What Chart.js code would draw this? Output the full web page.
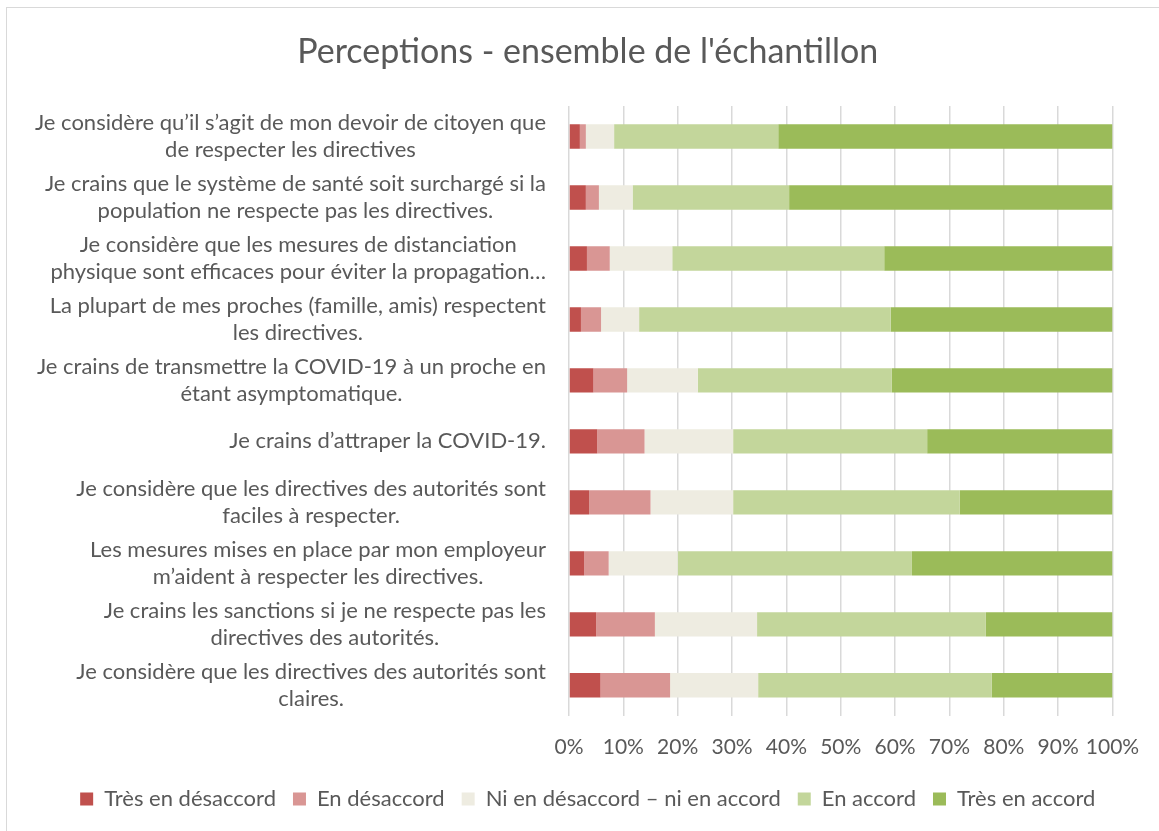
<!DOCTYPE html>
<html>
<head>
<meta charset="utf-8">
<script src="https://cdn.jsdelivr.net/npm/chart.js@4"></script>
<style>
    html, body { margin: 0; padding: 0; background: #fff; overflow: hidden; }
    #wrap { position: relative; width: 1159px; height: 831px; }
    #cadre {
        position: absolute; left: 6px; top: 7px; width: 1180px; height: 850px;
        border: 1.5px solid #d9d9d9; pointer-events: none;
    }
</style>
</head>
<body>
<div id="wrap">
    <canvas id="chartPerceptions" width="1159" height="831"></canvas>
    <div id="cadre"></div>
</div>
<script>
// Énoncés (lignes telles que coupées dans l'original)
const enonces = [
    ['Je considère qu’il s’agit de mon devoir de citoyen que', 'de respecter les directives'],
    ['Je crains que le système de santé soit surchargé si la', 'population ne respecte pas les directives.'],
    ['Je considère que les mesures de distanciation', 'physique sont efficaces pour éviter la propagation…'],
    ['La plupart de mes proches (famille, amis) respectent', 'les directives.'],
    ['Je crains de transmettre la COVID-19 à un proche en', 'étant asymptomatique.'],
    ['Je crains d’attraper la COVID-19.'],
    ['Je considère que les directives des autorités sont', 'faciles à respecter.'],
    ['Les mesures mises en place par mon employeur', 'm’aident à respecter les directives.'],
    ['Je crains les sanctions si je ne respecte pas les', 'directives des autorités.'],
    ['Je considère que les directives des autorités sont', 'claires.']
];

// Pourcentages
const tresDesaccord = [2.0, 3.1, 3.3, 2.2, 4.5, 5.2, 3.7, 2.8, 5.0, 5.8];
const desaccord     = [1.1, 2.4, 4.2, 3.7, 6.2, 8.7, 11.3, 4.5, 10.8, 12.8];
const neutre        = [5.2, 6.2, 11.5, 7.0, 13.0, 16.3, 15.2, 12.7, 18.8, 16.2];
const accord        = [30.2, 28.8, 39.0, 46.3, 35.7, 35.7, 41.7, 43.1, 42.1, 43.0];
const tresAccord    = [61.5, 59.5, 42.0, 40.8, 40.6, 34.1, 28.1, 36.9, 23.3, 22.2];

const nomsSeries = ['Très en désaccord', 'En désaccord', 'Ni en désaccord – ni en accord', 'En accord', 'Très en accord'];
const couleurs = ['#C0504D', '#D99694', '#EEECE1', '#C3D69B', '#9BBB59'];

const textColor = '#595959';
const gridColor = '#d9d9d9';
const police = 'Lato, "Noto Sans", sans-serif';

// Étiquettes de l'axe vertical : lignes centrées, bloc aligné à droite
const etiquettesPlugin = {
    id: 'etiquettes',
    afterDraw(chart) {
        const yScale = chart.scales.y;
        const ctx = chart.ctx;
        ctx.save();
        ctx.font = '22px ' + police;
        ctx.fillStyle = textColor;
        ctx.textAlign = 'center';
        ctx.textBaseline = 'middle';
        const droite = chart.chartArea.left - 23;
        enonces.forEach((lignes, i) => {
            const y = yScale.getPixelForTick(i);
            const largeur = Math.max(...lignes.map(l => ctx.measureText(l).width));
            const cx = droite - largeur / 2;
            lignes.forEach((l, j) => {
                ctx.fillText(l, cx, y + (j - (lignes.length - 1) / 2) * 27);
            });
        });
        ctx.restore();
    }
};

const series = [tresDesaccord, desaccord, neutre, accord, tresAccord];

new Chart(document.getElementById('chartPerceptions').getContext('2d'), {
    type: 'bar',
    data: {
        labels: enonces.map(l => l.join(' ')),
        datasets: series.map((valeurs, i) => ({
            label: nomsSeries[i],
            data: valeurs,
            backgroundColor: couleurs[i],
            borderWidth: 0,
            barPercentage: 0.4,
            categoryPercentage: 1
        }))
    },
    options: {
        indexAxis: 'y',
        responsive: false,
        animation: false,
        layout: { padding: { left: 63, right: 46.5, top: 0, bottom: 11 } },
        scales: {
            x: {
                stacked: true,
                min: 0,
                max: 100,
                grid: { color: gridColor, lineWidth: 1.5, drawTicks: false },
                border: { display: false },
                ticks: {
                    stepSize: 10,
                    padding: 19,
                    maxRotation: 0,
                    minRotation: 0,
                    autoSkip: false,
                    color: textColor,
                    font: { family: police, size: 21 },
                    callback: v => v + '%'
                },
                afterFit(scale) { scale.height -= 8; }
            },
            y: {
                stacked: true,
                grid: { display: false },
                border: { display: false },
                ticks: { display: false },
                afterFit(scale) { scale.width = 506; }
            }
        },
        plugins: {
            title: {
                display: true,
                text: "Perceptions - ensemble de l'échantillon",
                color: textColor,
                font: { family: police, size: 34, weight: 'normal' },
                padding: { top: 31.6, bottom: 33.6 }
            },
            legend: {
                position: 'bottom',
                labels: {
                    color: textColor,
                    boxWidth: 13,
                    boxHeight: 13,
                    padding: 17,
                    font: { family: police, size: 22 }
                }
            },
            tooltip: { enabled: false }
        }
    },
    plugins: [etiquettesPlugin]
});
</script>
</body>
</html>
